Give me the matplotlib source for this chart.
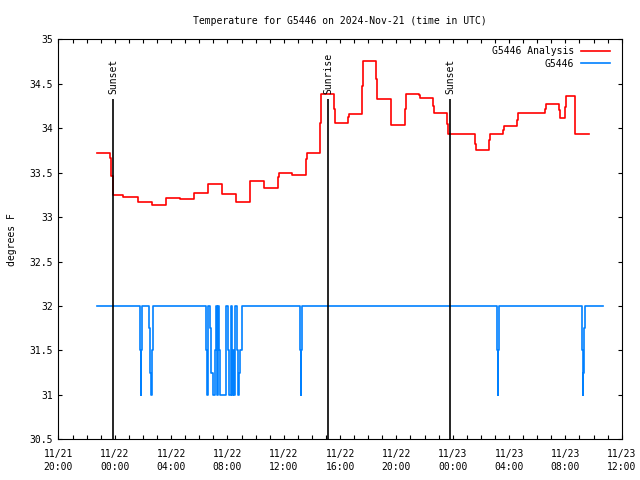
import pandas as pd
import matplotlib
matplotlib.use("Agg")
import matplotlib.pyplot as plt
import matplotlib.dates as mdates
from matplotlib.ticker import MultipleLocator, StrMethodFormatter

plt.rcParams['font.family'] = 'DejaVu Sans Mono'
plt.rcParams['font.size'] = 7

# ---- data (UTC) ----
analysis_time = [
    "2024-11-21 22:43", "2024-11-21 23:38", "2024-11-21 23:45", "2024-11-21 23:52",
    "2024-11-22 00:37", "2024-11-22 01:37", "2024-11-22 02:37", "2024-11-22 03:37",
    "2024-11-22 04:37", "2024-11-22 05:36", "2024-11-22 06:35", "2024-11-22 07:35",
    "2024-11-22 08:35", "2024-11-22 09:35", "2024-11-22 10:35", "2024-11-22 11:35",
    "2024-11-22 11:39", "2024-11-22 12:35", "2024-11-22 13:35", "2024-11-22 13:39",
    "2024-11-22 14:35", "2024-11-22 14:39", "2024-11-22 15:35", "2024-11-22 15:39",
    "2024-11-22 16:35", "2024-11-22 16:39", "2024-11-22 17:35", "2024-11-22 17:39",
    "2024-11-22 18:35", "2024-11-22 18:39", "2024-11-22 19:35", "2024-11-22 19:39",
    "2024-11-22 20:35", "2024-11-22 20:39", "2024-11-22 21:35", "2024-11-22 21:39",
    "2024-11-22 22:35", "2024-11-22 22:39", "2024-11-22 23:35", "2024-11-22 23:39",
    "2024-11-23 00:35", "2024-11-23 01:35", "2024-11-23 01:39", "2024-11-23 02:35",
    "2024-11-23 02:39", "2024-11-23 03:35", "2024-11-23 03:39", "2024-11-23 04:35",
    "2024-11-23 04:39", "2024-11-23 06:35", "2024-11-23 06:39", "2024-11-23 07:34",
    "2024-11-23 07:38", "2024-11-23 07:59", "2024-11-23 08:02", "2024-11-23 08:40",
    "2024-11-23 08:43", "2024-11-23 09:40",
]
analysis_temp = [
    33.72, 33.67, 33.46, 33.25,
    33.23, 33.17, 33.14, 33.21,
    33.20, 33.27, 33.37, 33.26,
    33.17, 33.41, 33.33, 33.45,
    33.50, 33.47, 33.65, 33.72,
    34.06, 34.38, 34.22, 34.06,
    34.13, 34.16, 34.47, 34.76,
    34.55, 34.33, 34.15, 34.04,
    34.22, 34.39, 34.37, 34.34,
    34.25, 34.17, 34.05, 33.94,
    33.93, 33.82, 33.76, 33.87,
    33.93, 33.98, 34.02, 34.09,
    34.17, 34.22, 34.27, 34.20,
    34.12, 34.24, 34.36, 34.15,
    33.93, 33.93,
]

obs_time = [
    "2024-11-21 22:43",
    "2024-11-22 01:47", "2024-11-22 01:51", "2024-11-22 01:52", "2024-11-22 01:55",
    "2024-11-22 02:27", "2024-11-22 02:31", "2024-11-22 02:35", "2024-11-22 02:39",
    "2024-11-22 02:43",
    "2024-11-22 06:28", "2024-11-22 06:33", "2024-11-22 06:37", "2024-11-22 06:45",
    "2024-11-22 06:51", "2024-11-22 06:57", "2024-11-22 07:07", "2024-11-22 07:11",
    "2024-11-22 07:15", "2024-11-22 07:20", "2024-11-22 07:24", "2024-11-22 07:28",
    "2024-11-22 07:54", "2024-11-22 08:03", "2024-11-22 08:08", "2024-11-22 08:14",
    "2024-11-22 08:19", "2024-11-22 08:23", "2024-11-22 08:28", "2024-11-22 08:32",
    "2024-11-22 08:41", "2024-11-22 08:45", "2024-11-22 08:49", "2024-11-22 08:53",
    "2024-11-22 09:01",
    "2024-11-22 13:09", "2024-11-22 13:12", "2024-11-22 13:14", "2024-11-22 13:18",
    "2024-11-23 03:10", "2024-11-23 03:13", "2024-11-23 03:15", "2024-11-23 03:19",
    "2024-11-23 09:12", "2024-11-23 09:15", "2024-11-23 09:17", "2024-11-23 09:20",
    "2024-11-23 09:24",
    "2024-11-23 10:41",
]
obs_temp = [
    32.0,
    31.5, 31.0, 31.5, 32.0,
    31.75, 31.25, 31.0, 31.5,
    32.0,
    31.5, 31.0, 32.0, 31.75,
    31.25, 31.0, 31.5, 32.0,
    31.0, 32.0, 31.5, 31.0,
    32.0, 31.5, 31.0, 32.0,
    31.0, 31.5, 31.0, 32.0,
    31.5, 31.0, 31.25, 31.5,
    32.0,
    31.5, 31.0, 31.5, 32.0,
    31.5, 31.0, 31.5, 32.0,
    31.5, 31.0, 31.25, 31.75,
    32.0,
    32.0,
]

sun_labels = ["Sunset", "Sunrise", "Sunset"]
sun_times = ["2024-11-21 23:53", "2024-11-22 15:10", "2024-11-22 23:49"]

x_start = "2024-11-21 20:00"
x_end = "2024-11-23 12:00"

# ---- plot ----
fig = plt.figure(figsize=(6.4, 4.8), dpi=100)
ax = fig.add_axes([0.0914, 0.0848, 0.88, 0.8333])

ax.plot(pd.to_datetime(analysis_time), analysis_temp, drawstyle='steps-post',
        color='#ff0000', lw=1.2, label='G5446 Analysis')
ax.plot(pd.to_datetime(obs_time), obs_temp, drawstyle='steps-post',
        color='#0080ff', lw=1.2, label='G5446')

for lab, t in zip(sun_labels, pd.to_datetime(sun_times)):
    ax.vlines(t, 30.5, 34.325, color='black', lw=1.2)
    ax.text(t, 34.39, lab, rotation=90, ha='center', va='bottom')

ax.set_xlim(pd.Timestamp(x_start), pd.Timestamp(x_end))
ax.set_ylim(30.5, 35)
ax.yaxis.set_major_locator(MultipleLocator(0.5))
ax.yaxis.set_major_formatter(StrMethodFormatter('{x:g}'))
ax.xaxis.set_major_locator(mdates.HourLocator(byhour=[0, 4, 8, 12, 16, 20]))
ax.xaxis.set_minor_locator(mdates.HourLocator())
ax.xaxis.set_major_formatter(mdates.DateFormatter('%m/%d\n%H:%M'))
for lbl in ax.get_xticklabels():
    lbl.set_linespacing(1.35)

ax.tick_params(which='both', direction='in', top=True, right=True,
               length=3, width=0.8)
ax.tick_params(axis='x', pad=7)
ax.tick_params(axis='y', pad=4)
for s in ax.spines.values():
    s.set_linewidth(0.8)

ax.set_title('Temperature for G5446 on 2024-Nov-21 (time in UTC)',
             fontsize=7, pad=11)
ax.set_ylabel('degrees F')
ax.yaxis.set_label_coords(-0.073, 0.5)

ax.legend(loc='upper right', bbox_to_anchor=(0.979, 0.983), frameon=False,
          markerfirst=False, handlelength=3.0, handletextpad=0.7,
          borderaxespad=0, borderpad=0, labelspacing=0.25)

fig.savefig('out.png', dpi=100)
